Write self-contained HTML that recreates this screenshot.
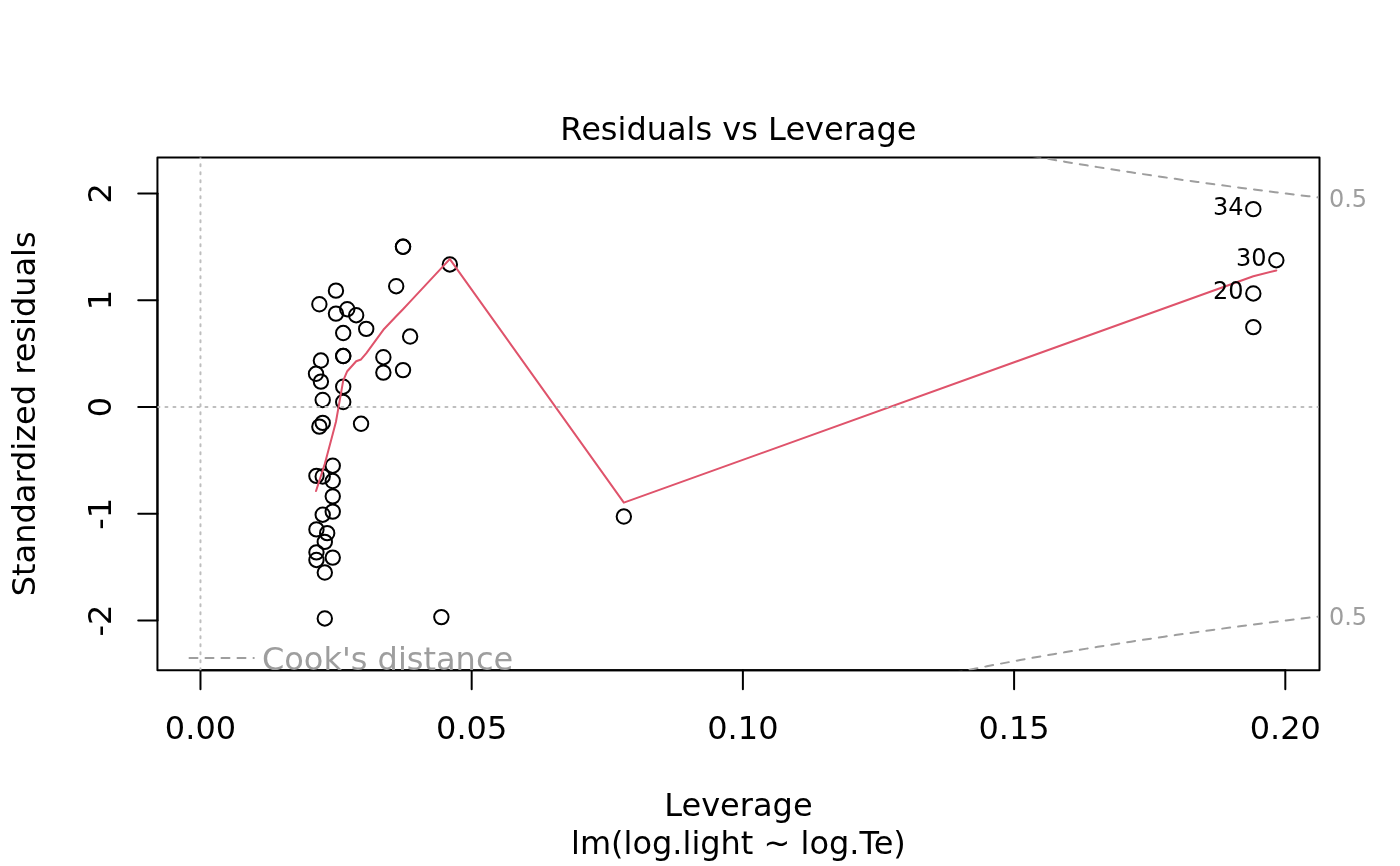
<!DOCTYPE html>
<html><head><meta charset="utf-8"><title>Residuals vs Leverage</title>
<style>
html,body{margin:0;padding:0;background:#fff;}
svg{display:block;}
text{font-family:"DejaVu Sans", "Liberation Sans", sans-serif;}
</style></head><body>
<svg width="1400" height="866" viewBox="0 0 1400 866">
<rect width="1400" height="866" fill="#ffffff"/>
<defs><clipPath id="plt"><rect x="157.44" y="157.44" width="1161.12" height="512.72"/></clipPath></defs>

<g fill="none" stroke="#000" stroke-width="2">
<circle cx="320.90" cy="360.57" r="7.2"/>
<circle cx="403.02" cy="246.76" r="7.2"/>
<circle cx="319.37" cy="426.64" r="7.2"/>
<circle cx="403.02" cy="246.76" r="7.2"/>
<circle cx="316.02" cy="373.77" r="7.2"/>
<circle cx="347.25" cy="309.22" r="7.2"/>
<circle cx="623.85" cy="516.56" r="7.2"/>
<circle cx="410.13" cy="336.51" r="7.2"/>
<circle cx="319.37" cy="304.25" r="7.2"/>
<circle cx="320.90" cy="381.61" r="7.2"/>
<circle cx="1253.32" cy="327.14" r="7.2"/>
<circle cx="335.96" cy="313.62" r="7.2"/>
<circle cx="356.17" cy="315.23" r="7.2"/>
<circle cx="441.36" cy="617.10" r="7.2"/>
<circle cx="316.44" cy="552.35" r="7.2"/>
<circle cx="332.75" cy="481.01" r="7.2"/>
<circle cx="324.80" cy="618.43" r="7.2"/>
<circle cx="332.75" cy="557.60" r="7.2"/>
<circle cx="324.80" cy="572.51" r="7.2"/>
<circle cx="1253.32" cy="293.44" r="7.2"/>
<circle cx="316.44" cy="529.41" r="7.2"/>
<circle cx="316.44" cy="559.99" r="7.2"/>
<circle cx="332.75" cy="511.65" r="7.2"/>
<circle cx="361.05" cy="423.82" r="7.2"/>
<circle cx="322.71" cy="399.94" r="7.2"/>
<circle cx="332.75" cy="465.70" r="7.2"/>
<circle cx="316.44" cy="475.88" r="7.2"/>
<circle cx="322.71" cy="422.89" r="7.2"/>
<circle cx="327.17" cy="533.15" r="7.2"/>
<circle cx="1276.33" cy="260.21" r="7.2"/>
<circle cx="322.71" cy="514.71" r="7.2"/>
<circle cx="403.02" cy="370.12" r="7.2"/>
<circle cx="343.21" cy="356.05" r="7.2"/>
<circle cx="1253.32" cy="209.17" r="7.2"/>
<circle cx="324.80" cy="541.90" r="7.2"/>
<circle cx="449.86" cy="264.47" r="7.2"/>
<circle cx="383.36" cy="372.58" r="7.2"/>
<circle cx="343.21" cy="356.05" r="7.2"/>
<circle cx="383.36" cy="357.19" r="7.2"/>
<circle cx="335.96" cy="290.63" r="7.2"/>
<circle cx="322.71" cy="476.45" r="7.2"/>
<circle cx="343.21" cy="386.71" r="7.2"/>
<circle cx="366.21" cy="328.92" r="7.2"/>
<circle cx="343.21" cy="333.05" r="7.2"/>
<circle cx="396.19" cy="286.19" r="7.2"/>
<circle cx="343.21" cy="402.05" r="7.2"/>
<circle cx="332.75" cy="496.33" r="7.2"/>
</g>
<g fill="none" stroke="#000" stroke-width="2" stroke-linecap="round" stroke-linejoin="round">
<path d="M200.47 670.16H1285.31"/>
<path d="M200.47 670.16v19.20"/>
<path d="M471.68 670.16v19.20"/>
<path d="M742.89 670.16v19.20"/>
<path d="M1014.10 670.16v19.20"/>
<path d="M1285.31 670.16v19.20"/>
<path d="M157.44 620.54V193.41"/>
<path d="M157.44 620.54h-19.20"/>
<path d="M157.44 513.76h-19.20"/>
<path d="M157.44 406.98h-19.20"/>
<path d="M157.44 300.20h-19.20"/>
<path d="M157.44 193.41h-19.20"/>
<rect x="157.44" y="157.44" width="1162.07" height="512.72"/>
</g>
<g font-size="32px" fill="#000" text-anchor="middle">
<text x="200.47" y="739.28">0.00</text>
<text x="471.68" y="739.28">0.05</text>
<text x="742.89" y="739.28">0.10</text>
<text x="1014.10" y="739.28">0.15</text>
<text x="1285.31" y="739.28">0.20</text>
<text transform="translate(111.36,620.54) rotate(-90)">-2</text>
<text transform="translate(111.36,513.76) rotate(-90)">-1</text>
<text transform="translate(111.36,406.98) rotate(-90)">0</text>
<text transform="translate(111.36,300.20) rotate(-90)">1</text>
<text transform="translate(111.36,193.41) rotate(-90)">2</text>
<text x="738.40" y="816.08">Leverage</text>
<text x="738.40" y="854.48">lm(log.light ~ log.Te)</text>
<text transform="translate(34.56,413.80) rotate(-90)">Standardized residuals</text>
<text x="738.40" y="140.16">Residuals vs Leverage</text>
</g>
<polyline points="316.02,491.02 316.44,489.73 316.44,489.73 316.44,489.73 316.44,489.73 319.37,480.68 319.37,480.68 320.90,475.94 320.90,475.94 322.71,470.34 322.71,470.34 322.71,470.34 322.71,470.34 324.80,463.88 324.80,463.88 324.80,463.88 327.17,454.97 332.75,434.00 332.75,434.00 332.75,434.00 332.75,434.00 332.75,434.00 335.96,421.79 335.96,421.79 343.21,380.69 343.21,380.69 343.21,380.69 343.21,380.69 343.21,380.69 347.25,371.23 356.17,361.26 361.05,359.45 366.21,353.33 383.36,329.79 383.36,329.79 396.19,316.24 403.02,309.18 403.02,309.18 403.02,309.18 410.13,301.62 441.36,268.06 449.86,259.06 623.85,502.63 1253.32,276.28 1253.32,276.28 1253.32,276.28 1276.33,270.47" fill="none" stroke="#DF536B" stroke-width="2" stroke-linecap="round" stroke-linejoin="round" clip-path="url(#plt)"/>
<g clip-path="url(#plt)" fill="none" stroke="#BEBEBE" stroke-width="2" stroke-dasharray="2 6" stroke-linecap="round">
<path d="M157.44 406.98H1319.36"/>
<path d="M200.47 670.16V157.44"/>
</g>
<g font-size="24px" fill="#000" text-anchor="end">
<text x="1243.62" y="215">34</text>
<text x="1266.63" y="266">30</text>
<text x="1243.62" y="299">20</text>
</g>
<g clip-path="url(#plt)" fill="none" stroke="#9E9E9E" stroke-width="2" stroke-dasharray="8 8" stroke-linecap="round" stroke-linejoin="round">
<polyline stroke-dashoffset="1.9" points="549.90,0.00 554.75,3.03 565.83,9.64 576.91,15.96 588.00,22.01 599.08,27.82 610.16,33.39 621.24,38.75 632.32,43.91 643.40,48.88 654.48,53.67 665.56,58.29 676.65,62.76 687.73,67.08 698.81,71.26 709.89,75.30 720.97,79.22 732.05,83.02 743.13,86.71 754.22,90.29 765.30,93.77 776.38,97.15 787.46,100.44 798.54,103.64 809.62,106.76 820.70,109.80 831.78,112.76 842.87,115.64 853.95,118.46 865.03,121.21 876.11,123.89 887.19,126.51 898.27,129.07 909.35,131.58 920.43,134.02 931.52,136.42 942.60,138.77 953.68,141.06 964.76,143.31 975.84,145.51 986.92,147.67 998.00,149.79 1009.08,151.86 1020.17,153.89 1031.25,155.89 1042.33,157.85 1053.41,159.77 1064.49,161.66 1075.57,163.52 1086.65,165.34 1097.73,167.13 1108.82,168.89 1119.90,170.62 1130.98,172.32 1142.06,173.99 1153.14,175.64 1164.22,177.25 1175.30,178.85 1186.38,180.42 1197.47,181.96 1208.55,183.48 1219.63,184.98 1230.71,186.45 1241.79,187.91 1252.87,189.34 1263.95,190.75 1275.03,192.14 1286.12,193.51 1297.20,194.87 1308.28,196.20 1319.36,197.52"/>
<polyline stroke-dashoffset="9.85" points="478.99,866.00 488.26,858.10 499.35,849.18 510.43,840.73 521.51,832.72 532.59,825.10 543.67,817.85 554.75,810.93 565.83,804.32 576.91,798.00 588.00,791.95 599.08,786.14 610.16,780.56 621.24,775.20 632.32,770.05 643.40,765.08 654.48,760.29 665.56,755.66 676.65,751.20 687.73,746.88 698.81,742.70 709.89,738.66 720.97,734.74 732.05,730.94 743.13,727.25 754.22,723.67 765.30,720.19 776.38,716.81 787.46,713.52 798.54,710.32 809.62,707.20 820.70,704.16 831.78,701.20 842.87,698.32 853.95,695.50 865.03,692.75 876.11,690.07 887.19,687.45 898.27,684.89 909.35,682.38 920.43,679.93 931.52,677.54 942.60,675.19 953.68,672.90 964.76,670.65 975.84,668.45 986.92,666.29 998.00,664.17 1009.08,662.10 1020.17,660.06 1031.25,658.07 1042.33,656.11 1053.41,654.19 1064.49,652.30 1075.57,650.44 1086.65,648.62 1097.73,646.83 1108.82,645.07 1119.90,643.34 1130.98,641.64 1142.06,639.97 1153.14,638.32 1164.22,636.70 1175.30,635.11 1186.38,633.54 1197.47,632.00 1208.55,630.48 1219.63,628.98 1230.71,627.50 1241.79,626.05 1252.87,624.62 1263.95,623.21 1275.03,621.82 1286.12,620.44 1297.20,619.09 1308.28,617.76 1319.36,616.44"/>
</g>
<path d="M189.5 658H253.8" fill="none" stroke="#9E9E9E" stroke-width="2" stroke-dasharray="8 8" stroke-linecap="round"/>
<text x="261.9" y="670" font-size="32px" fill="#9E9E9E">Cook's distance</text>
<g font-size="24px" fill="#9E9E9E">
<text x="1328.96" y="207">0.5</text>
<text x="1328.96" y="625">0.5</text>
</g>
</svg></body></html>
